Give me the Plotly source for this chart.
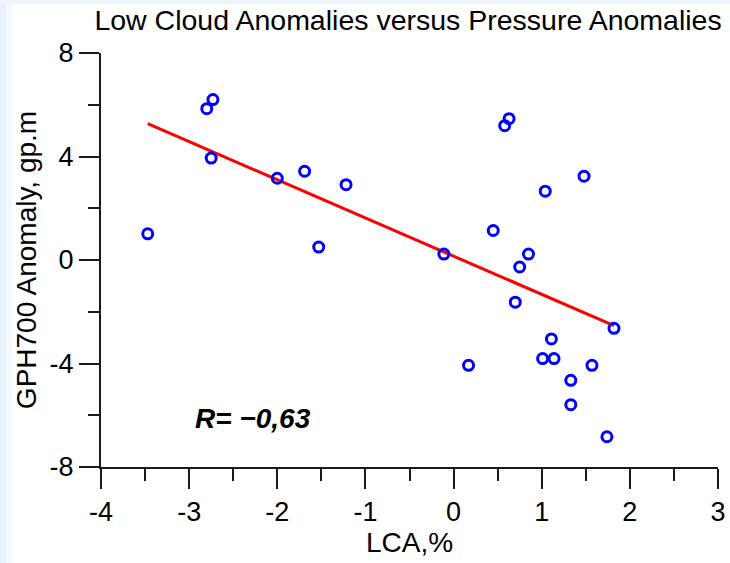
import numpy as np
import plotly.graph_objects as go

# Data
lca = [-3.47, -2.80, -2.73, -2.75, -2.00, -1.69, -1.53, -1.22, -0.11,
       0.17, 0.45, 0.58, 0.63, 0.70, 0.75, 0.85, 1.01, 1.04, 1.11, 1.14,
       1.33, 1.33, 1.48, 1.57, 1.74, 1.82]
gph = [1.01, 5.85, 6.20, 3.94, 3.16, 3.43, 0.50, 2.91, 0.23,
       -4.07, 1.14, 5.19, 5.46, -1.63, -0.27, 0.23, -3.81, 2.66, -3.05, -3.81,
       -4.65, -5.59, 3.24, -4.07, -6.83, -2.64]
r_label = "R= \u22120,63"
x_ticks = [-4, -3, -2, -1, 0, 1, 2, 3]
x_tick_text = ["-4", "-3", "-2", "-1", "0", "1", "2", "3"]
y_ticks = [-8, -4, 0, 4, 8]
y_tick_text = ["-8", "-4", "0", "4", "8"]

slope, intercept = np.polyfit(lca, gph, 1)
fit_x = [min(lca), max(lca)]
fit_y = [slope * v + intercept for v in fit_x]

FONT = "Liberation Sans, Arial, sans-serif"
AX = "#1a1a1a"
W, H = 730, 563
L, R, T, B = 101, 12, 53, 96
PW = W - L - R
PH = H - T - B

fig = go.Figure()
fig.add_trace(go.Scatter(x=fit_x, y=fit_y, mode="lines",
                         line=dict(color="#ff0000", width=3), showlegend=False))
fig.add_trace(go.Scatter(x=lca, y=gph, mode="markers",
                         marker=dict(symbol="circle-open", size=10, color="#0000ff",
                                     line=dict(width=3, color="#0000ff")),
                         showlegend=False))

fig.update_layout(
    width=W, height=H,
    margin=dict(l=L, r=R, t=T, b=B, autoexpand=False),
    paper_bgcolor="white", plot_bgcolor="white",
    font=dict(family=FONT, size=27, color="black"),
    title=dict(text="Low Cloud Anomalies versus Pressure Anomalies",
               x=0.559, xanchor="center", y=0.965, yanchor="middle",
               font=dict(family=FONT, size=28.5, color="black")),
    xaxis=dict(range=[-4, 3], tickvals=x_ticks, ticktext=x_tick_text,
               ticks="outside", ticklen=20,
               tickwidth=2, tickcolor=AX, showline=True, linecolor=AX, linewidth=2,
               showgrid=False, zeroline=False, automargin=False,
               minor=dict(dtick=0.5, ticks="outside", ticklen=12, tickwidth=2,
                          tickcolor=AX, showgrid=False),
               title=dict(text="LCA,%", standoff=6, font=dict(size=28)),
               tickfont=dict(size=27)),
    yaxis=dict(range=[-8, 8], tickvals=y_ticks, ticktext=y_tick_text,
               ticks="outside", ticklen=20,
               tickwidth=2, tickcolor=AX, showline=True, linecolor=AX, linewidth=2,
               showgrid=False, zeroline=False, automargin=False,
               minor=dict(dtick=2, ticks="outside", ticklen=11, tickwidth=2,
                          tickcolor=AX, showgrid=False),
               title=dict(text="GPH700 Anomaly, gp.m", standoff=5, font=dict(size=28)),
               tickfont=dict(size=27)),
    annotations=[dict(text="<b><i>" + r_label + "</i></b>", xref="paper", yref="paper",
                      x=0.246, y=0.118, xanchor="center", yanchor="middle",
                      showarrow=False, font=dict(family=FONT, size=28, color="black"))],
    shapes=[
        dict(type="rect", xref="paper", yref="paper", x0=-L / PW, x1=-(L - 6) / PW,
             y0=-B / PH, y1=1 + T / PH, fillcolor="#e8f2fc", line=dict(width=0), layer="below"),
        dict(type="rect", xref="paper", yref="paper", x0=-(L - 6) / PW, x1=-(L - 12) / PW,
             y0=-B / PH, y1=1 + T / PH, fillcolor="#f4f9fe", line=dict(width=0), layer="below"),
        dict(type="rect", xref="paper", yref="paper", x0=-L / PW, x1=1 + R / PW,
             y0=1 + (T - 4) / PH, y1=1 + T / PH, fillcolor="#eef5fc", line=dict(width=0), layer="below"),
    ],
)

fig.write_html("out.html", config={"displayModeBar": False},
               post_script="document.body.style.margin='0';")
